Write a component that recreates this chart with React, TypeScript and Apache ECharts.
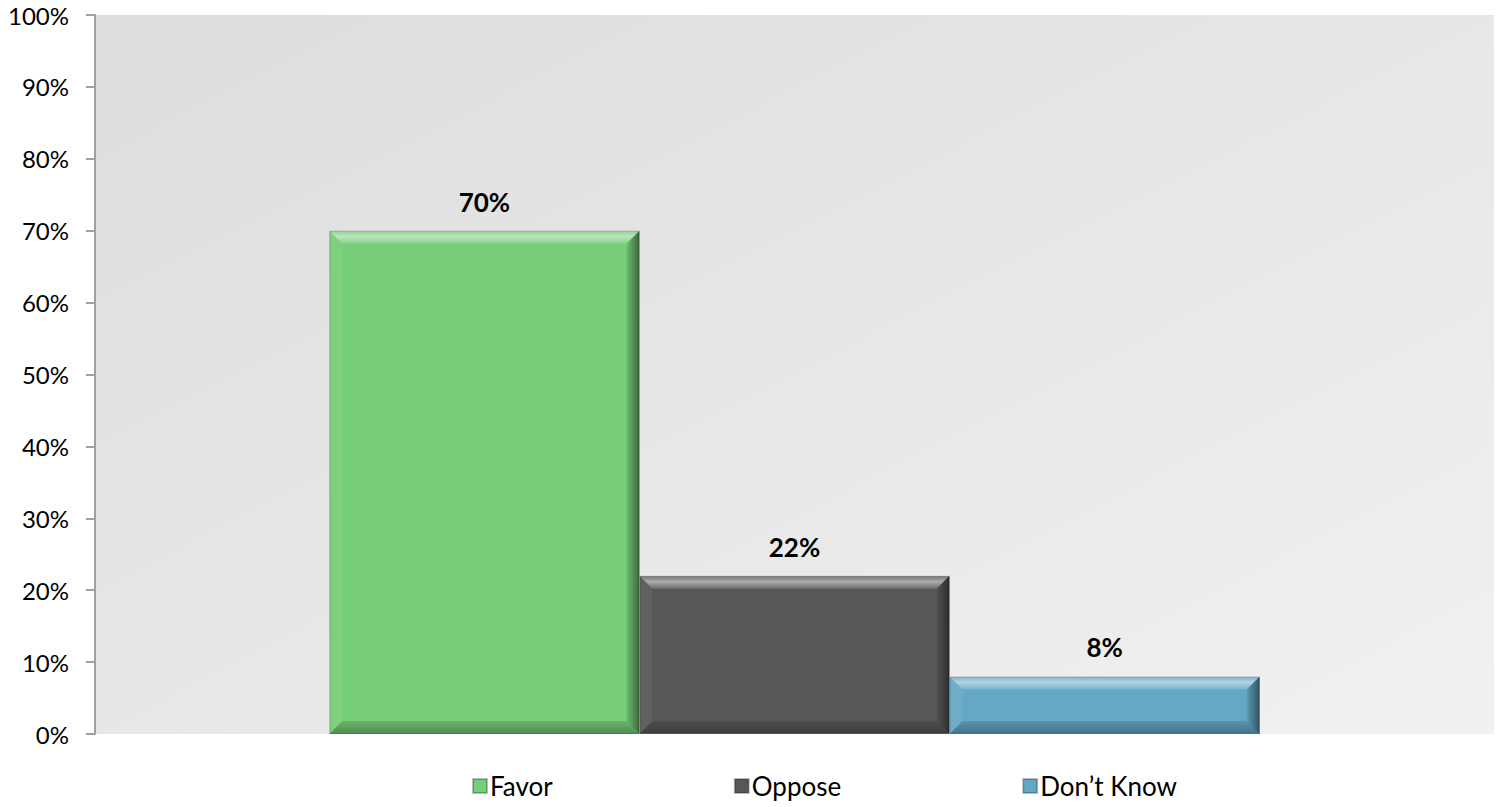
import React, { useEffect, useRef } from "react";
import * as echarts from "echarts";

const categories = [""];
const seriesNames = ["Favor", "Oppose", "Don\u2019t Know"];
const favorValues = [70];
const opposeValues = [22];
const dontKnowValues = [8];
const seriesColors = ["#76ce78", "#59575a", "#64a8c5"];
const yMin = 0;
const yMax = 100;
const yInterval = 10;

const GAP = 0.335;
const FONT = "Lato, 'Open Sans', sans-serif";

export default function App() {
  const ref = useRef<HTMLDivElement>(null);
  useEffect(() => {
    if (!ref.current) return;
    const chart = echarts.init(ref.current, null, { renderer: "svg" });
    const allValues = [favorValues, opposeValues, dontKnowValues];
    const bevelData = allValues.map((vals, i) => [0, vals[0], i]);

    const barSeries = allValues.map((vals, i) => ({
      name: seriesNames[i],
      type: "bar",
      data: vals,
      barGap: 0,
      barCategoryGap: GAP * 100 + "%",
      itemStyle: { color: seriesColors[i], borderColor: "rgba(0,0,0,0.25)", borderWidth: 1 },
      label: {
        show: true,
        position: "top",
        distance: 16,
        formatter: "{c}%",
        fontSize: 26,
        fontWeight: "bold",
        color: "#000",
        fontFamily: FONT,
      },
      z: 2,
    }));

    const bevelSeries = {
      name: "bevel",
      type: "custom",
      silent: true,
      z: 3,
      data: bevelData,
      encode: { x: 0, y: 1 },
      renderItem: (params: any, api: any) => {
        const v = api.value(1);
        const idx = api.value(2);
        const base = api.coord([0, 0]);
        const top = api.coord([0, v]);
        const band = api.size([1, 0])[0];
        const bw = (band * (1 - GAP)) / 3;
        const x0 = base[0] - 1.5 * bw + idx * bw;
        const x1 = x0 + bw;
        const y0 = top[1];
        const y1 = base[1];
        const b = Math.min(13, (y1 - y0) / 2);
        return {
          type: "group",
          children: [
            {
              type: "polygon",
              shape: { points: [[x0, y0], [x1, y0], [x1 - b, y0 + b], [x0 + b, y0 + b]] },
              style: {
                fill: new echarts.graphic.LinearGradient(0, 0, 0, 1, [
                  { offset: 0, color: "rgba(255,255,255,0.15)" },
                  { offset: 0.45, color: "rgba(255,255,255,0.5)" },
                  { offset: 1, color: "rgba(255,255,255,0.12)" },
                ]),
              },
            },
            {
              type: "polygon",
              shape: { points: [[x0, y0], [x0 + b, y0 + b], [x0 + b, y1 - b], [x0, y1]] },
              style: { fill: "rgba(255,255,255,0.06)" },
            },
            {
              type: "polygon",
              shape: { points: [[x1, y0], [x1, y1], [x1 - b, y1 - b], [x1 - b, y0 + b]] },
              style: {
                fill: new echarts.graphic.LinearGradient(0, 0, 1, 0, [
                  { offset: 0, color: "rgba(0,0,0,0.08)" },
                  { offset: 1, color: "rgba(0,0,0,0.5)" },
                ]),
              },
            },
            {
              type: "polygon",
              shape: { points: [[x0, y1], [x0 + b, y1 - b], [x1 - b, y1 - b], [x1, y1]] },
              style: {
                fill: new echarts.graphic.LinearGradient(0, 0, 0, 1, [
                  { offset: 0, color: "rgba(0,0,0,0.12)" },
                  { offset: 1, color: "rgba(0,0,0,0.32)" },
                ]),
              },
            },
          ],
        };
      },
    };

    chart.setOption({
      animation: false,
      backgroundColor: "#ffffff",
      grid: {
        left: 95,
        right: 5,
        top: 15,
        bottom: 73,
        show: true,
        borderWidth: 0,
        backgroundColor: new echarts.graphic.LinearGradient(0, 0, 1, 1, [
          { offset: 0, color: "#dddddd" },
          { offset: 1, color: "#f1f1f1" },
        ]),
      },
      legend: {
        data: seriesNames,
        left: 467,
        top: 768,
        itemGap: 181,
        itemWidth: 14,
        itemHeight: 14,
        icon: "rect",
        textStyle: { fontSize: 26, color: "#000", fontFamily: FONT, padding: [0, 0, 0, -2] },
      },
      xAxis: {
        type: "category",
        data: categories,
        axisLine: { show: false },
        axisTick: { show: false },
        axisLabel: { show: false },
      },
      yAxis: {
        type: "value",
        min: yMin,
        max: yMax,
        interval: yInterval,
        axisLine: { show: true, lineStyle: { color: "#a0a0a0", width: 2 } },
        axisTick: { show: true, length: 9, lineStyle: { color: "#a0a0a0", width: 2 } },
        splitLine: { show: false },
        axisLabel: {
          formatter: "{value}%",
          fontSize: 24,
          color: "#000",
          margin: 26,
          fontFamily: FONT,
        },
      },
      series: [...barSeries, bevelSeries],
    });
    return () => chart.dispose();
  }, []);
  return (
    <div
      ref={ref}
      style={{ position: "absolute", left: 0, top: 0, width: 1499, height: 807 }}
    />
  );
}
